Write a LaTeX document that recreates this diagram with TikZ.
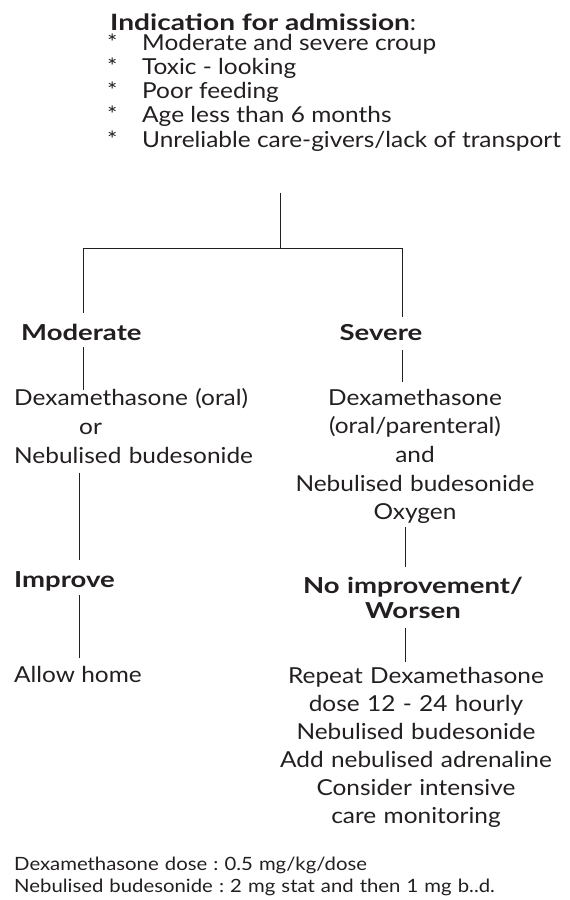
\documentclass[tikz,border=0pt]{standalone}
\usepackage{fontspec}
\setmainfont{Lato}[FakeStretch=1.11, BoldFeatures={FakeStretch=1.25}]
\usetikzlibrary{positioning}
\definecolor{inkblack}{RGB}{35,31,32}

\tikzset{
  txt/.style={inner sep=0pt, text=inkblack, anchor=base, font=\fontsize{22}{28.5}\selectfont},
  head/.style={txt, font=\fontsize{22}{25}\selectfont\bfseries},
  note/.style={txt, font=\fontsize{18.3}{22}\selectfont\frenchspacing},
  link/.style={draw=inkblack, line width=1pt},
}

\begin{document}
\begin{tikzpicture}[x=1pt, y=-1pt]
  \useasboundingbox (0,0) rectangle (570,900);

  % Indication list
  \node[txt, anchor=base west, font=\fontsize{22.5}{25}\selectfont] (title) at (110,30) {\bfseries Indication for admission\mdseries:};
  \foreach \crit [count=\i] in {Moderate and severe croup, Toxic - looking, Poor feeding, Age less than 6 months, Unreliable care-givers/lack of transport} {
    \node[txt, anchor=base west] (star\i) at (107, 25.7+24.3*\i) {*};
    \node[txt, anchor=base west] (crit\i) at (142, 25.7+24.3*\i) {\crit};
  }

  % Split into two branches
  \coordinate (jtop) at (280,193);
  \coordinate (jmid) at (280,248);
  \coordinate (jl) at (83,248);
  \coordinate (jr) at (402,248);
  \coordinate (cl) at (79,0);
  \coordinate (cr) at (405,0);
  \draw[link] (jtop) -- (jmid);
  \draw[link] (jl) -- (jr);

  % Moderate branch
  \node[head, anchor=base west] (mod) at (21,340) {Moderate};
  \node[txt, anchor=base west, text width=260pt, align=left, font=\fontsize{22}{29}\selectfont] (modrx) at (14,405)
    {Dexamethasone (oral)\\\hspace*{65pt}or\\Nebulised budesonide};
  \node[head, anchor=base west] (imp) at (14,587) {Improve};
  \node[txt, anchor=base west] (home) at (14,682) {Allow home};

  \draw[link] (jl) -- ([yshift=27pt]mod.base -| jl);
  \draw[link] ([yshift=-7pt]mod.base -| jl) -- ([yshift=15pt]modrx.base -| jl);
  \draw[link] ([yshift=-10pt]modrx.south -| cl) -- ([yshift=27pt]imp.base -| cl);
  \draw[link] ([yshift=-8pt]imp.base -| cl) -- ([yshift=24pt]home.base -| cl);

  % Severe branch
  \node[head] (sev) at (381,340) {Severe};
  \node[txt, text width=270pt, align=center, font=\fontsize{22}{28.7}\selectfont] (sevrx) at (415,405)
    {Dexamethasone\\(oral/parenteral)\\and\\Nebulised budesonide\\Oxygen};
  \node[head, text width=270pt, align=center] (worse) at (413,593) {No improvement/\\Worsen};
  \node[txt, text width=280pt, align=center, font=\fontsize{22}{28}\selectfont] (rep) at (416,683)
    {Repeat Dexamethasone\\dose 12 - 24 hourly\\Nebulised budesonide\\Add nebulised adrenaline\\Consider intensive\\care monitoring};

  \draw[link] (jr) -- ([yshift=23pt]sev.base -| jr);
  \draw[link] ([yshift=-10pt]sev.base -| jr) -- ([yshift=23pt]sevrx.base -| jr);
  \draw[link] ([yshift=-3pt]sevrx.south -| cr) -- ([yshift=26pt]worse.base -| cr);
  \draw[link] ([yshift=-10pt]worse.south -| cr) -- ([yshift=21pt]rep.base -| cr);

  % Dose notes
  \node[note, anchor=base west, text width=540pt, align=left] (dose) at (14,870)
    {Dexamethasone dose : 0.5 mg/kg/dose\\Nebulised budesonide : 2 mg stat and then 1 mg b..d.};
\end{tikzpicture}
\end{document}
